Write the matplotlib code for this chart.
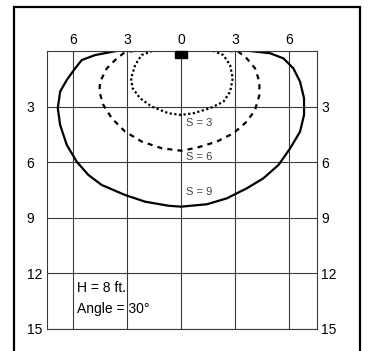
import matplotlib.pyplot as plt
from matplotlib.patches import Rectangle

plt.rcParams["font.family"] = ["Liberation Sans", "DejaVu Sans"]

# Grid ticks (feet from the fixture).
x_ticks = [-6, -3, 0, 3, 6]
x_tick_labels = ["6", "3", "0", "3", "6"]
y_ticks = [3, 6, 9, 12, 15]
y_tick_labels = ["3", "6", "9", "12", "15"]

# Fixture location.
fixture_x = [0.0]
fixture_y = [0.0]

# Illuminance contours, traced left top -> bottom -> right top.
s3_x = [-1.6, -2.2, -2.55, -2.78, -2.7, -2.28, -1.63, -0.7, 0.0,
        0.68, 1.6, 2.35, 2.72, 2.87, 2.72, 2.35, 1.8]
s3_y = [0.0, 0.22, 0.76, 1.47, 2.0, 2.55, 3.0, 3.36, 3.45,
        3.36, 3.09, 2.74, 2.2, 1.47, 0.76, 0.22, 0.0]

s6_x = [-2.6, -3.1, -3.57, -4.13, -4.5, -4.54, -4.32, -3.85, -3.11, -2.18, -1.07, 0.0,
        0.87, 1.98, 2.91, 3.65, 4.11, 4.35, 4.35, 4.11, 3.65, 3.2, 2.7]
s6_y = [0.0, 0.05, 0.4, 0.94, 1.66, 2.19, 2.91, 3.63, 4.35, 4.89, 5.25, 5.38,
        5.22, 4.89, 4.44, 3.81, 3.18, 2.37, 1.66, 0.94, 0.4, 0.05, 0.0]

s9_x = [-3.6, -4.78, -5.52, -5.89, -6.35, -6.72, -6.85, -6.72, -6.35, -5.8, -5.15,
        -4.41, -3.11, -2.0, -0.7, 0.0, 1.43, 2.54, 3.65, 4.57, 5.41, 6.06, 6.61,
        6.83, 6.83, 6.61, 6.24, 5.69, 4.94, 3.83]
s9_y = [0.0, 0.22, 0.49, 0.94, 1.56, 2.19, 3.09, 3.99, 5.07, 5.97, 6.69,
        7.23, 7.77, 8.13, 8.35, 8.4, 8.27, 7.95, 7.41, 6.87, 6.15, 5.25, 4.35,
        3.45, 2.55, 1.66, 0.94, 0.4, 0.12, 0.0]

contour_labels = ["S = 3", "S = 6", "S = 9"]
note_lines = ["H = 8 ft.", "Angle = 30\u00b0"]

figure = plt.figure(figsize=(3.68, 3.51), dpi=100)
axis = figure.add_axes([0.1277, 0.0627, 0.7337, 0.792])

# Outer border around the whole chart (runs off the bottom edge).
figure.patches.append(Rectangle((0.038, -0.05), 0.94, 1.03, transform=figure.transFigure,
                                fill=False, edgecolor="black", linewidth=1.6))

grid_color = "#3a3a3a"
axis.set_xlim(-7.45, 7.55)
axis.set_ylim(15, 0)
axis.set_xticks(x_ticks)
axis.set_xticklabels(x_tick_labels)
axis.set_yticks(y_ticks)
axis.set_yticklabels(y_tick_labels)
axis.xaxis.tick_top()
axis.tick_params(axis="x", length=0, pad=2.9, labelsize=10)
axis.tick_params(axis="y", length=0, labelsize=10, left=True, right=True,
                 labelleft=True, labelright=True, pad=2.9)
# Left labels are left aligned at a fixed spot outside the box.
for tick in axis.yaxis.get_major_ticks():
    tick.label1.set_horizontalalignment("left")
    tick.label1.set_x(-0.075)
    tick.label1.set_transform(axis.get_yaxis_transform())

axis.grid(True, color=grid_color, linewidth=0.8)
axis.set_axisbelow(True)
for spine in axis.spines.values():
    spine.set_color(grid_color)
    spine.set_linewidth(0.8)

# Contours.
axis.plot(s3_x, s3_y, color="black", linewidth=1.6, linestyle=(0, (1, 1.1)))
axis.plot(s6_x, s6_y, color="black", linewidth=1.6, linestyle=(0, (2.3, 2.3)))
axis.plot(s9_x, s9_y, color="black", linewidth=1.6, solid_joinstyle="round")

# Fixture drawn as a small flat block hanging below the top edge.
block = [(-1, 0), (1, 0), (1, -1.17), (-1, -1.17), (-1, 0)]
axis.plot(fixture_x, fixture_y, linestyle="none", marker=block, markersize=10.1,
          color="black", clip_on=False, zorder=5)

# Contour labels.
label_y = [3.89, 5.7, 7.63]
for text, y in zip(contour_labels, label_y):
    axis.text(0.3, y, text, fontsize=8, color="#444444", ha="left", va="center")

# Mounting note.
axis.text(-5.78, 13.0, note_lines[0], fontsize=10, ha="left", va="baseline")
axis.text(-5.78, 14.14, note_lines[1], fontsize=10, ha="left", va="baseline")

figure.savefig("out.png", dpi=100)
